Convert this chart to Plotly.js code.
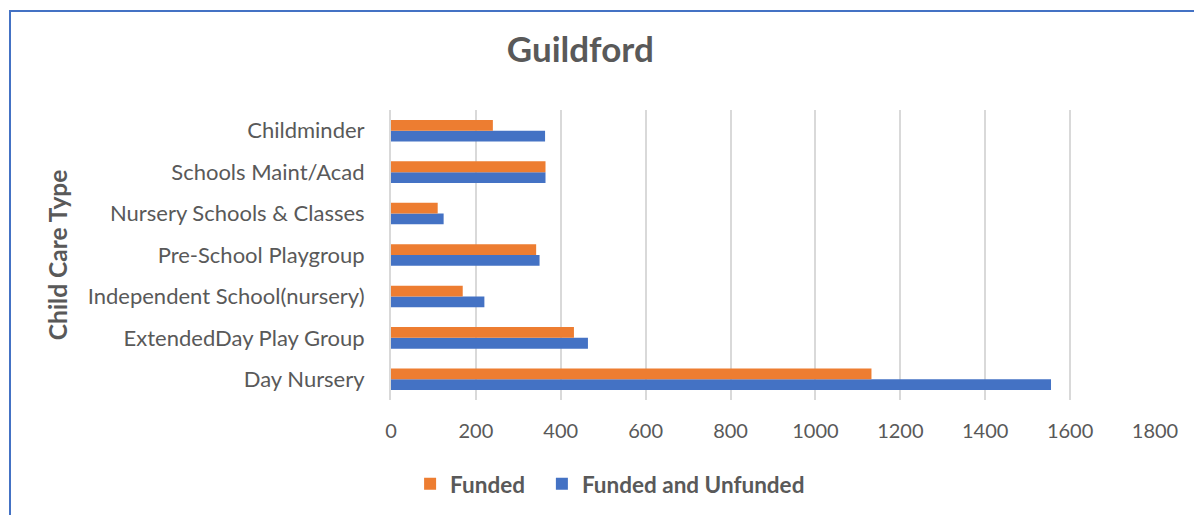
<!DOCTYPE html>
<html>
<head>
<meta charset="utf-8">
<script src="https://cdn.plot.ly/plotly-3.0.1.min.js"></script>
<style>
  html, body { margin: 0; padding: 0; background: #fff; overflow: hidden; }
  #wrap { position: relative; width: 1194px; height: 515px; }
  #chart { position: absolute; left: 0; top: 0; width: 1194px; height: 515px; }
  #frame { position: absolute; left: 9px; top: 10px; width: 1200px; height: 520px;
           border-left: 2px solid #4472C4; border-top: 2px solid #4472C4; pointer-events: none; }
</style>
</head>
<body>
<div id="wrap">
  <div id="chart"></div>
  <div id="frame"></div>
</div>
<script>
// Categories listed bottom to top
const categories = [
  "Day Nursery",
  "ExtendedDay Play Group",
  "Independent School(nursery)",
  "Pre-School Playgroup",
  "Nursery Schools & Classes",
  "Schools Maint/Acad",
  "Childminder"
];
const funded = [1132, 431, 169, 342, 110, 364, 240];
const fundedAndUnfunded = [1555, 464, 220, 350, 124, 364, 363];
const xTicks = [0, 200, 400, 600, 800, 1000, 1200, 1400, 1600, 1800];

const textColor = "#595959";
const font = "Lato, 'Open Sans', sans-serif";

const traces = [
  {
    type: "bar", orientation: "h", name: "Funded and Unfunded",
    y: categories, x: fundedAndUnfunded, legend: "legend2",
    marker: { color: "#4472C4" }, hoverinfo: "x+name"
  },
  {
    type: "bar", orientation: "h", name: "Funded",
    y: categories, x: funded, legend: "legend",
    marker: { color: "#ED7D31" }, hoverinfo: "x+name"
  }
];

const legendFont = { family: font, size: 22.5, color: textColor, weight: "bold" };

const layout = {
  width: 1194, height: 515,
  margin: { l: 391, r: 39, t: 110, b: 115, autoexpand: false },
  paper_bgcolor: "#ffffff", plot_bgcolor: "#ffffff",
  font: { family: font, color: textColor, size: 18 },
  title: {
    text: "<b>Guildford</b>",
    font: { family: font, size: 35, color: textColor },
    x: 0.486, xanchor: "center", xref: "container",
    y: 0.903, yanchor: "middle", yref: "container"
  },
  barmode: "group",
  bargap: 0.48, bargroupgap: 0,
  xaxis: {
    range: [0, 1800], tickvals: xTicks, ticktext: xTicks.map(String),
    showgrid: true, gridcolor: "#D9D9D9", gridwidth: 2,
    zeroline: false, showline: false, ticks: "",
    ticklabelstandoff: 17,
    tickfont: { family: font, size: 20, color: textColor },
    automargin: false, fixedrange: true
  },
  yaxis: {
    type: "category", categoryorder: "array", categoryarray: categories,
    showgrid: false, zeroline: false,
    showline: true, linecolor: "#D9D9D9", linewidth: 2,
    ticks: "", ticklabelstandoff: 20,
    tickfont: { family: font, size: 22, color: textColor },
    automargin: false, fixedrange: true
  },
  showlegend: true,
  legend: {
    orientation: "h",
    x: 0.025, xanchor: "left", y: 0.06, yanchor: "middle", yref: "container",
    font: legendFont, itemwidth: 30, bgcolor: "rgba(0,0,0,0)"
  },
  legend2: {
    orientation: "h",
    x: 0.1975, xanchor: "left", y: 0.06, yanchor: "middle", yref: "container",
    font: legendFont, itemwidth: 30, bgcolor: "rgba(0,0,0,0)"
  },
  annotations: [{
    text: "<b>Child Care Type</b>", textangle: -90,
    xref: "paper", yref: "paper", x: -0.437, y: 0.5,
    xanchor: "center", yanchor: "middle", showarrow: false,
    font: { family: font, size: 24.5, color: textColor }
  }]
};

Plotly.newPlot("chart", traces, layout, { displayModeBar: false, staticPlot: true });
</script>
</body>
</html>
